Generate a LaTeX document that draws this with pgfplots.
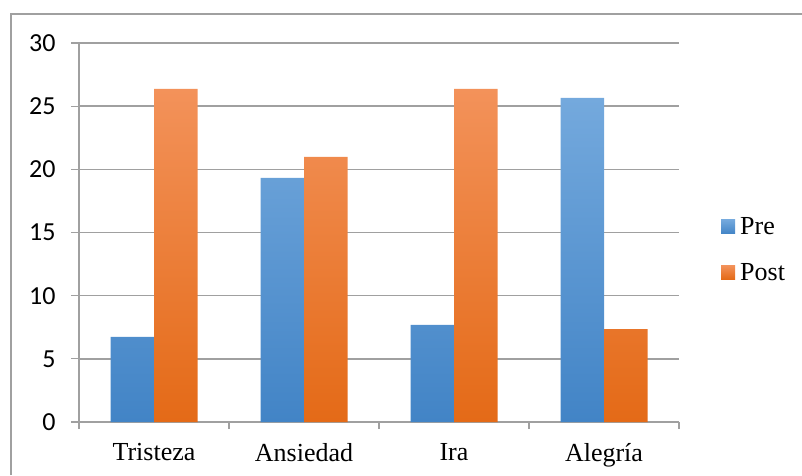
\documentclass[border=0pt]{standalone}
\usepackage{fontspec}
\setmainfont{Liberation Serif}
\newfontfamily\carlito{Carlito}
\usepackage{pgfplots}
\pgfplotsset{compat=1.18}
\definecolor{preTop}{HTML}{74A9DD}
\definecolor{preBot}{HTML}{4284C6}
\definecolor{postTop}{HTML}{F3925A}
\definecolor{postBot}{HTML}{E46A17}
\definecolor{gridc}{HTML}{A0A0A0}
\begin{document}
\begin{tikzpicture}[x=1pt,y=1pt]
\path[use as bounding box] (0,0) rectangle (802,475);
\draw[gridc, line width=1.5pt] (11,0) -- (11,461) -- (802,461);
\begin{axis}[
  at={(79pt,53pt)}, anchor=south west,
  width=600pt, height=379pt, scale only axis,
  ymin=0, ymax=30, ytick={0,5,...,30},
  xmin=-0.5, xmax=3.5, xtick={0,1,2,3},
  xticklabels={Tristeza,Ansiedad,Ira,Alegría},
  minor xtick={-0.5,0.5,1.5,2.5,3.5},
  major x tick style={draw=none},
  axis x line*=bottom, axis y line*=left,
  axis line style={gridc, line width=1.5pt, -},
  ymajorgrids, grid style={gridc, line width=1.5pt},
  tick align=outside, major tick length=8pt, minor tick length=7pt,
  tick style={gridc, line width=1.2pt},
  /pgf/number format/assume math mode=true,
  yticklabel style={font=\carlito\fontsize{26}{26}\selectfont, xshift=-12pt},
  xticklabel style={font=\fontsize{26}{26}\selectfont, yshift=-10pt},
  ybar, bar width=43.5pt, ybar=0pt,
  legend style={at={(1.07,0.455)}, anchor=west, draw=none, fill=none, inner sep=0pt,
    font=\fontsize{26}{26}\selectfont, row sep=23pt, column sep=3pt},
  legend cell align=left,
  legend image code/.code={\path[#1] (0pt,-7pt) rectangle (14pt,7pt);},
]
\addplot[draw=none, top color=preTop, bottom color=preBot] coordinates {(0,6.73) (1,19.32) (2,7.68) (3,25.65)};
\addplot[draw=none, top color=postTop, bottom color=postBot] coordinates {(0,26.36) (1,20.98) (2,26.36) (3,7.36)};
\legend{Pre,Post}
\end{axis}
\end{tikzpicture}
\end{document}
